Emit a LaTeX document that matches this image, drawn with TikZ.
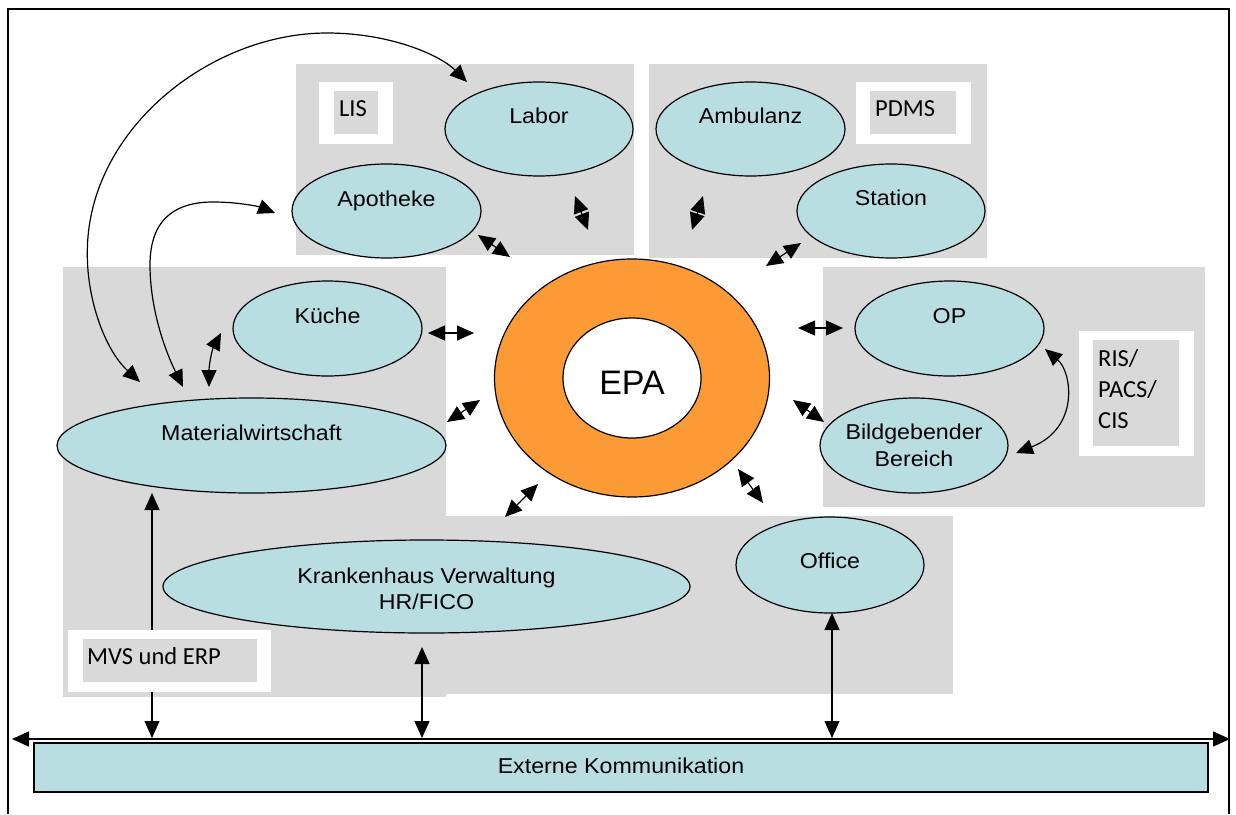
\documentclass[tikz,border=0pt]{standalone}
\usepackage{fontspec}
\setmainfont{Liberation Sans}
\newfontfamily\calfont{Carlito}
\newfontfamily\widefont[FakeStretch=1.08]{Liberation Sans}
\usetikzlibrary{arrows.meta,shapes.geometric}

\definecolor{boxgray}{RGB}{217,217,217}
\definecolor{sysblue}{RGB}{184,222,226}
\definecolor{ringorange}{RGB}{252,154,54}

\begin{document}
\begin{tikzpicture}[x=1pt,y=-1pt,
  sys/.style={ellipse, draw=black, line width=1.2pt, fill=sysblue, inner sep=0pt},
  lbl/.style={font=\fontsize{21.5}{26.5}\selectfont\widefont, align=center, inner sep=0pt},
  tag/.style={font=\fontsize{24.5}{31}\selectfont\calfont, align=left, inner sep=0pt},
  link/.style={line width=1.2pt, {Triangle[length=17pt,width=15pt]}-{Triangle[length=17pt,width=15pt]}},
]
\useasboundingbox (0,0) rectangle (1236,814);
\fill[white] (0,0) rectangle (1236,814);

% outer frame
\draw[line width=1.5pt] (8,814) -- (8,9) -- (1229,9) -- (1229,814);

% grey system areas
\fill[boxgray] (296,64) rectangle (634,255);
\fill[boxgray] (649,64) rectangle (987,258);
\fill[boxgray] (63,267) rectangle (446,697);
\fill[boxgray] (446,516) rectangle (953,694);
\fill[boxgray] (823,267) rectangle (1205,507);

% endpoints of the connectors
\coordinate (bigA) at (140,382);  \coordinate (bigB) at (467,82);
\coordinate (smlA) at (183,387);  \coordinate (smlB) at (275,213);
\coordinate (kmA) at (221,333);   \coordinate (kmB) at (209,387);
\coordinate (obA) at (1045,349);  \coordinate (obB) at (1016,453);
\coordinate (labA) at (575,196);  \coordinate (labB) at (588,230);
\coordinate (apoA) at (478,235);  \coordinate (apoB) at (510,257);
\coordinate (ambA) at (703,196);  \coordinate (ambB) at (692,230);
\coordinate (staA) at (801,243);  \coordinate (staB) at (766,266);
\coordinate (kueA) at (428,333);  \coordinate (kueB) at (474,333);
\coordinate (matA) at (447,422);  \coordinate (matB) at (480,400);
\coordinate (khA) at (538,484);   \coordinate (khB) at (505,517);
\coordinate (offA) at (738,469);  \coordinate (offB) at (763,503);
\coordinate (opA) at (798,328);   \coordinate (opB) at (843,328);
\coordinate (bilA) at (793,400);  \coordinate (bilB) at (824,422);
\coordinate (busL) at (12,739);   \coordinate (busR) at (1230,739);
\coordinate (mvTop) at (152,493); \coordinate (mvBot) at (152,738);
\coordinate (khTop) at (422,647); \coordinate (khBot) at (422,738);
\coordinate (ofTop) at (832,613); \coordinate (ofBot) at (832,738);

% long curved links into the Materialwirtschaft
\draw[link] (bigA) .. controls (105,350) and (87,300) .. (87.3,253)
                   .. controls (87,130) and (210,33) .. (327,33)
                   .. controls (390,33) and (440,55) .. (bigB);
\draw[link] (smlA) .. controls (160,340) and (150,300) .. (150,265)
                   .. controls (150,215) and (180,202) .. (213,202)
                   .. controls (240,202) and (260,207) .. (smlB);
\draw[link] (kmA) .. controls (212,350) and (209,365) .. (kmB);
\draw[link] (obA) .. controls (1072,372) and (1080,428) .. (obB);

% vertical links to the communication bus
\draw[link] (mvTop) -- (mvBot);
\draw[link] (khTop) -- (khBot);
\draw[link] (ofTop) -- (ofBot);

% short links around the EPA
\draw[link] (labA) -- (labB);
\draw[link] (apoA) -- (apoB);
\draw[link] (ambA) -- (ambB);
\draw[link] (staA) -- (staB);
\draw[link] (kueA) -- (kueB);
\draw[link] (matA) -- (matB);
\draw[link] (khA) -- (khB);
\draw[link] (offA) -- (offB);
\draw[link] (opA) -- (opB);
\draw[link] (bilA) -- (bilB);

% systems
\node[sys, minimum width=188pt, minimum height=94pt] (labor) at (539,129) {};
\node[sys, minimum width=189pt, minimum height=94pt] (apotheke) at (386.5,211) {};
\node[sys, minimum width=189pt, minimum height=94pt] (ambulanz) at (750.5,129) {};
\node[sys, minimum width=188pt, minimum height=94pt] (station) at (891,211) {};
\node[sys, minimum width=189pt, minimum height=95pt] (kueche) at (327.5,328.5) {};
\node[sys, minimum width=389pt, minimum height=95pt] (material) at (251.5,445.5) {};
\node[sys, minimum width=189pt, minimum height=95pt] (op) at (949.5,328.5) {};
\node[sys, minimum width=188pt, minimum height=95pt] (bild) at (914,445.5) {};
\node[sys, minimum width=527pt, minimum height=93pt] (verwaltung) at (426.5,586.5) {};
\node[sys, minimum width=188pt, minimum height=96pt] (office) at (830,565) {};

\node[lbl, anchor=base] (laborT) at (539,123) {Labor};
\node[lbl, anchor=base] (apothekeT) at (386.5,206.5) {Apotheke};
\node[lbl, anchor=base] (ambulanzT) at (750.5,123.5) {Ambulanz};
\node[lbl, anchor=base] (stationT) at (891,205.5) {Station};
\node[lbl, anchor=base] (kuecheT) at (327.5,323) {Küche};
\node[lbl, anchor=base] (materialT) at (251.5,440) {Materialwirtschaft};
\node[lbl, anchor=base] (opT) at (949.5,323) {OP};
\node[lbl] (bildT) at (914,445.5) {Bildgebender\\Bereich};
\node[lbl] (verwaltungT) at (426.5,589) {Krankenhaus Verwaltung\\HR/FICO};
\node[lbl, anchor=base] (officeT) at (830,568) {Office};

% EPA ring
\node[ellipse, draw=black, line width=1.2pt, fill=ringorange, minimum width=275pt, minimum height=238pt] (epa) at (632,378) {};
\node[ellipse, draw=black, line width=1.2pt, fill=white, minimum width=138pt, minimum height=120pt] (epaCore) at (632,378) {};
\node[font=\fontsize{34}{40}\selectfont, anchor=base, inner sep=0pt] (epaT) at (632,394) {EPA};

% communication bus
\draw[link, line width=1.5pt] (busL) -- (busR);
\node[draw=black, line width=1.5pt, fill=sysblue, minimum width=1174pt, minimum height=49pt, inner sep=0pt] (extern) at (621,767.5) {};
\node[lbl, anchor=base] (externT) at (621,773) {Externe Kommunikation};

% system group tags
\fill[white] (319,82) rectangle (393,144);
\fill[boxgray] (334,91) rectangle (378,134);
\node[tag, anchor=base west] (lisT) at (339,116) {LIS};

\fill[white] (856,82) rectangle (971,144);
\fill[boxgray] (870,91) rectangle (956,134);
\node[tag, anchor=base west] (pdmsT) at (875,116) {PDMS};

\fill[white] (1079,331) rectangle (1194,456);
\fill[boxgray] (1093,340) rectangle (1179,446);
\node[tag, anchor=west] (risT) at (1098,389.5) {RIS/\\PACS/\\CIS};

\fill[white] (68,630) rectangle (271,692);
\fill[boxgray] (83,639) rectangle (257,682);
\node[tag, anchor=base west] (mvsT) at (87,664) {MVS und ERP};
\end{tikzpicture}
\end{document}
